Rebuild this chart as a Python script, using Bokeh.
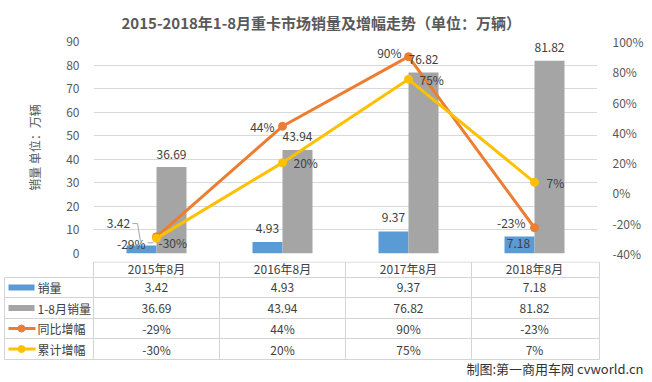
from bokeh.plotting import figure
from bokeh.models import Range1d, LinearAxis, FixedTicker, PrintfTickFormatter, ColumnDataSource
from bokeh.layouts import column
from bokeh.transform import dodge
from bokeh.core.properties import value
from bokeh.embed import file_html
from bokeh.resources import INLINE

# ---------------- data ----------------
categories = ["2015年8月", "2016年8月", "2017年8月", "2018年8月"]
monthly_sales = [3.42, 4.93, 9.37, 7.18]        # 销量 (万辆)
ytd_sales = [36.69, 43.94, 76.82, 81.82]        # 1-8月销量 (万辆)
yoy_growth = [-29, 44, 90, -23]                 # 同比增幅 (%)
ytd_growth = [-30, 20, 75, 7]                   # 累计增幅 (%)
row_names = ["销量", "1-8月销量", "同比增幅", "累计增幅"]
left_ticks = [0, 10, 20, 30, 40, 50, 60, 70, 80, 90]
right_ticks = [-40, -20, 0, 20, 40, 60, 80, 100]

title_text = "2015-2018年1-8月重卡市场销量及增幅走势（单位：万辆）"
y_title = "销量 单位：万辆"
credit = "制图:第一商用车网 cvworld.cn"

# ---------------- style / layout ----------------
BLUE, GRAY, ORANGE, YELLOW = "#5B9BD5", "#A5A5A5", "#ED7D31", "#FFC000"
GRID, TXT, AX, LINE = "#D9D9D9", "#404040", "#595959", "#D4D4D4"
FONT = value("Noto Sans CJK SC")

W, H = 650, 380
FRAME_L, FRAME_R, FRAME_T, FRAME_BOT = 93, 597, 40, 253
TOP_H = FRAME_BOT + 8
BOT_H = H - TOP_H
FRAME_W = FRAME_R - FRAME_L
FRAME_H = FRAME_BOT - FRAME_T
N = len(categories)
PX_PER_CAT = FRAME_W / N
BAR_W = 30 / PX_PER_CAT
PX_PER_UNIT = FRAME_H / (left_ticks[-1] - left_ticks[0])
PX_PER_PCT = FRAME_H / (right_ticks[-1] - right_ticks[0])

# per-label offsets (screen px) – layout only
m_dx, m_dy = [-23, 0, 0, -1], [-22, -13, -14, 7]
t_dx, t_dy = [0, 0, 0, 0], [-13, -13, -13, -13]
o_dx, o_dy = [-11, -8, -7, -9], [7, 0, -4, -5]
g_dx, g_dy = [2, 11, 11, 12], [4, 0, 0, 0]

xc = [i + 0.5 for i in range(N)]
src = ColumnDataSource(dict(
    x=xc, m=monthly_sales, t=ytd_sales, o=yoy_growth, g=ytd_growth,
    m_lbl=[f"{v:.2f}" for v in monthly_sales],
    t_lbl=[f"{v:.2f}" for v in ytd_sales],
    o_lbl=[f"{v}%" for v in yoy_growth],
    g_lbl=[f"{v}%" for v in ytd_growth],
    m_dx=m_dx, m_dy=m_dy, t_dx=t_dx, t_dy=t_dy,
    o_dx=o_dx, o_dy=o_dy, g_dx=g_dx, g_dy=g_dy,
))

# ---------------- chart ----------------
p = figure(width=W, height=TOP_H,
           x_range=Range1d(0, N), y_range=Range1d(left_ticks[0], left_ticks[-1]),
           output_backend="svg", toolbar_location=None, x_axis_location=None,
           min_border_left=FRAME_L, min_border_right=W - FRAME_R,
           min_border_top=FRAME_T, min_border_bottom=TOP_H - FRAME_BOT)
p.frame_align = False
p.outline_line_color = None
p.extra_y_ranges = {"pct": Range1d(right_ticks[0], right_ticks[-1])}

p.title.text = title_text
p.title.align = "left"
p.title.offset = 28
p.title.standoff = 18
p.title.text_font = "Noto Sans CJK SC"
p.title.text_font_size = "15px"
p.title.text_font_style = "bold"
p.title.text_color = AX

p.xgrid.visible = False
p.ygrid.ticker = FixedTicker(ticks=left_ticks)
p.ygrid.grid_line_color = GRID

ya = p.yaxis[0]
ya.ticker = FixedTicker(ticks=left_ticks)
ya.axis_line_color = None
ya.major_tick_line_color = None
ya.minor_tick_line_color = None
ya.major_label_standoff = 8
ya.major_label_text_font = "Noto Sans CJK SC"
ya.major_label_text_font_size = "12px"
ya.major_label_text_color = AX
ya.axis_label = y_title
ya.axis_label_standoff = 20
ya.axis_label_text_font = "Noto Sans CJK SC"
ya.axis_label_text_font_size = "12px"
ya.axis_label_text_font_style = "normal"
ya.axis_label_text_color = AX

ra = LinearAxis(y_range_name="pct", ticker=FixedTicker(ticks=right_ticks),
                formatter=PrintfTickFormatter(format="%d%%"))
ra.axis_line_color = None
ra.major_tick_line_color = None
ra.minor_tick_line_color = None
ra.major_label_standoff = 9
ra.major_label_text_font = "Noto Sans CJK SC"
ra.major_label_text_font_size = "12px"
ra.major_label_text_color = AX
p.add_layout(ra, "right")

p.vbar(x=dodge("x", -BAR_W / 2), top="m", bottom=0, width=BAR_W, source=src,
       fill_color=BLUE, line_color=None)
p.vbar(x=dodge("x", BAR_W / 2), top="t", bottom=0, width=BAR_W, source=src,
       fill_color=GRAY, line_color=None)

p.line("x", "o", source=src, y_range_name="pct", line_color=ORANGE, line_width=3)
p.scatter("x", "o", source=src, y_range_name="pct", size=8, fill_color=ORANGE, line_color=ORANGE)
p.line("x", "g", source=src, y_range_name="pct", line_color=YELLOW, line_width=3)
p.scatter("x", "g", source=src, y_range_name="pct", size=8, fill_color=YELLOW, line_color=YELLOW)

# leader lines for crowded first-category labels
bx0, by0 = xc[0] - BAR_W / 2, monthly_sales[0]
lead = [(-9, -22), (-4, -22), (-1, -4)]
p.line([bx0 + dx / PX_PER_CAT for dx, _ in lead], [by0 - dy / PX_PER_UNIT for _, dy in lead],
       line_color="#A6A6A6", line_width=1)
ox0, oy0 = xc[0], yoy_growth[0]
lead2 = [(-9, 6), (-3, 6)]
p.line([ox0 + dx / PX_PER_CAT for dx, _ in lead2], [oy0 - dy / PX_PER_PCT for _, dy in lead2],
       y_range_name="pct", line_color="#A6A6A6", line_width=1)

lbl = dict(source=src, text_font=FONT, text_font_size="12px", text_color=TXT,
           text_baseline="middle")
p.text(x=dodge("x", -BAR_W / 2), y="m", text="m_lbl", x_offset="m_dx", y_offset="m_dy",
       text_align="center", **lbl)
p.text(x=dodge("x", BAR_W / 2), y="t", text="t_lbl", x_offset="t_dx", y_offset="t_dy",
       text_align="center", **lbl)
p.text(x="x", y="o", text="o_lbl", x_offset="o_dx", y_offset="o_dy", y_range_name="pct",
       text_align="right", **lbl)
p.text(x="x", y="g", text="g_lbl", x_offset="g_dx", y_offset="g_dy", y_range_name="pct",
       text_align="left", **lbl)

# ---------------- data table (page pixel coordinates on y) ----------------
def cx(px):
    return (px - FRAME_L) / PX_PER_CAT

b = figure(width=W, height=BOT_H, x_range=Range1d(cx(0), cx(W)),
           y_range=Range1d(H, TOP_H),
           output_backend="svg", toolbar_location=None, min_border=0,
           min_border_left=0, min_border_right=0, min_border_top=0, min_border_bottom=0,
           x_axis_location=None, y_axis_location=None)
b.frame_align = False
b.outline_line_color = None
b.grid.visible = False

row_y = [TOP_H + 0.5, 277, 297, 318, 338, 359]
left_x = cx(4)
b.segment(x0=[0] + [left_x] * 5, x1=[cx(FRAME_R + 2)] * 6, y0=row_y, y1=row_y,
          line_color=LINE, line_width=1)
col_x = list(range(N)) + [cx(FRAME_R + 2)]
b.segment(x0=col_x, x1=col_x, y0=[row_y[0]] * (N + 1), y1=[row_y[-1]] * (N + 1),
          line_color=LINE, line_width=1)
b.segment(x0=[left_x], x1=[left_x], y0=[row_y[1]], y1=[row_y[-1]], line_color=LINE, line_width=1)

mid = [268, 287, 307.5, 328, 348.5]
tbl = dict(text_font=FONT, text_font_size="12px", text_color=TXT, text_baseline="middle")
b.text(x=xc, y=[mid[0]] * N, text=categories, text_align="center", **tbl)
rows = [[f"{v:.2f}" for v in monthly_sales], [f"{v:.2f}" for v in ytd_sales],
        [f"{v}%" for v in yoy_growth], [f"{v}%" for v in ytd_growth]]
for r, vals in enumerate(rows):
    b.text(x=xc, y=[mid[r + 1]] * N, text=vals, text_align="center", **tbl)

# legend keys
kx = cx(21)
b.rect(x=[kx, kx], y=[mid[1], mid[2]], width=26, height=6, width_units="screen",
       height_units="screen", fill_color=[BLUE, GRAY], line_color=None)
b.segment(x0=[cx(8)] * 2, x1=[cx(35)] * 2, y0=[mid[3], mid[4]], y1=[mid[3], mid[4]],
          line_color=[ORANGE, YELLOW], line_width=3)
b.scatter(x=[kx, kx], y=[mid[3], mid[4]], size=7, fill_color=[ORANGE, YELLOW],
          line_color=[ORANGE, YELLOW])
b.text(x=[cx(37)] * 4, y=mid[1:], text=row_names, text_align="left", **tbl)

b.text(x=[cx(643)], y=[368], text=[credit], text_align="right", text_font=FONT,
       text_font_size="13px", text_color="#333333", text_baseline="middle")

layout = column(p, b, spacing=0)
open("out.html", "w").write(file_html(layout, INLINE))
